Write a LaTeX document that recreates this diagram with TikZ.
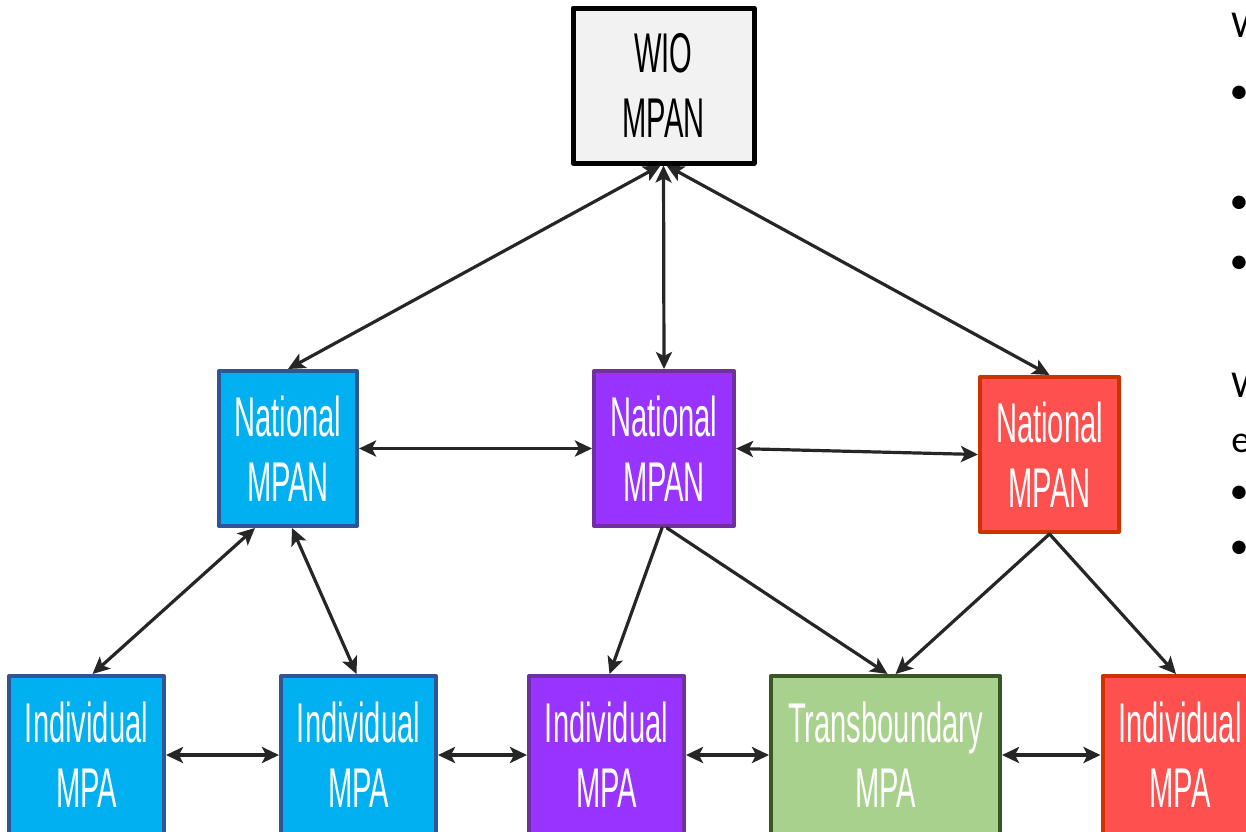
\documentclass[tikz,border=0pt]{standalone}
\usepackage{fontspec}
\usetikzlibrary{arrows.meta}
\newfontfamily\boxfont[FakeStretch=0.52]{Liberation Sans}
\newfontfamily\sidefont{Carlito}
\definecolor{wiogray}{RGB}{242,242,242}
\definecolor{natblue}{RGB}{0,176,240}
\definecolor{blueedge}{RGB}{47,85,151}
\definecolor{natpurple}{RGB}{153,51,255}
\definecolor{purpleedge}{RGB}{112,48,160}
\definecolor{natred}{RGB}{255,80,80}
\definecolor{rededge}{RGB}{204,51,0}
\definecolor{transgreen}{RGB}{169,209,142}
\definecolor{greenedge}{RGB}{56,87,35}
\definecolor{arrowgray}{RGB}{38,38,38}

\begin{document}
\begin{tikzpicture}[line cap=round,line join=round,x=0.5pt,y=-0.5pt,
  mpanbox/.style={rectangle,line width=2pt,align=center,text=white,inner sep=0pt,
    minimum width=77.5pt,minimum height=77.5pt,font=\boxfont\fontsize{28}{32.5}\selectfont},
  link/.style={draw=arrowgray,line width=1.6pt,{Stealth[length=8.5pt,width=8pt,inset=2pt]}-{Stealth[length=8.5pt,width=8pt,inset=2pt]}},
  oneway/.style={draw=arrowgray,line width=1.6pt,-{Stealth[length=8.5pt,width=8pt,inset=2pt]}},
  sidetext/.style={inner sep=0pt,font=\sidefont\fontsize{19}{22}\selectfont}]
\useasboundingbox (0,0) rectangle (1246,831);
\clip (0,0) rectangle (1246,831);
% top level
\node[mpanbox,draw=black,fill=wiogray,text=black,line width=2.5pt,minimum width=90.5pt] (wio) at (663.5,85.5) {WIO\\MPAN};
% national networks
\node[mpanbox,draw=blueedge,fill=natblue,minimum width=69pt] (natblue) at (288,448.5) {National\\MPAN};
\node[mpanbox,draw=purpleedge,fill=natpurple,minimum width=70pt] (natpurple) at (664,448.5) {National\\MPAN};
\node[mpanbox,draw=rededge,fill=natred,minimum width=69.5pt] (natred) at (1049.5,454.5) {National\\MPAN};
% single sites
\node[mpanbox,draw=blueedge,fill=natblue,minimum height=79pt] (indA) at (86.5,755) {Individual\\MPA};
\node[mpanbox,draw=blueedge,fill=natblue,minimum height=79pt] (indB) at (358.5,755) {Individual\\MPA};
\node[mpanbox,draw=purpleedge,fill=natpurple,minimum height=79pt] (indC) at (606.5,755) {Individual\\MPA};
\node[mpanbox,draw=greenedge,fill=transgreen,minimum width=114.5pt,minimum height=79pt] (trans) at (885.5,755) {Transboundary\\MPA};
\node[mpanbox,draw=rededge,fill=natred,minimum height=79pt] (indD) at (1180,755) {Individual\\MPA};
% links
\draw[link] ([xshift=-1.5pt]wio.south) -- (natblue.north);
\draw[link] (wio.south) -- (natpurple.north);
\draw[link] ([xshift=1.5pt]wio.south) -- (natred.north);
\draw[link] (natblue.east) -- (natpurple.west);
\draw[link] (natpurple.east) -- (natred.west);
\draw[link] ([xshift=-16.5pt]natblue.south) -- ([xshift=3pt]indA.north);
\draw[link] ([xshift=2pt]natblue.south) -- ([xshift=-1pt]indB.north);
\draw[oneway] ([xshift=-1pt]natpurple.south) -- ([xshift=1.5pt]indC.north);
\draw[oneway] ([xshift=1.5pt]natpurple.south) -- ([xshift=1pt]trans.north);
\draw[oneway] (natred.south) -- ([xshift=5pt]trans.north);
\draw[oneway] (natred.south) -- ([xshift=-2pt]indD.north);
\draw[link] (indA.east) -- (indB.west);
\draw[link] (indB.east) -- (indC.west);
\draw[link] (indC.east) -- (trans.west);
\draw[link] (trans.east) -- (indD.west);
% text cut off at the right edge
\node[sidetext,anchor=base west] (sideA) at (1231,37) {W};
\node[sidetext] (sideB) at (1239,95) {•};
\node[sidetext] (sideC) at (1239,205) {•};
\node[sidetext] (sideD) at (1239,265) {•};
\node[sidetext,anchor=base west] (sideE) at (1231,397) {W};
\node[sidetext,anchor=base west] (sideF) at (1231,452) {e};
\node[sidetext] (sideG) at (1239,495) {•};
\node[sidetext] (sideH) at (1239,550) {•};
\end{tikzpicture}
\end{document}
